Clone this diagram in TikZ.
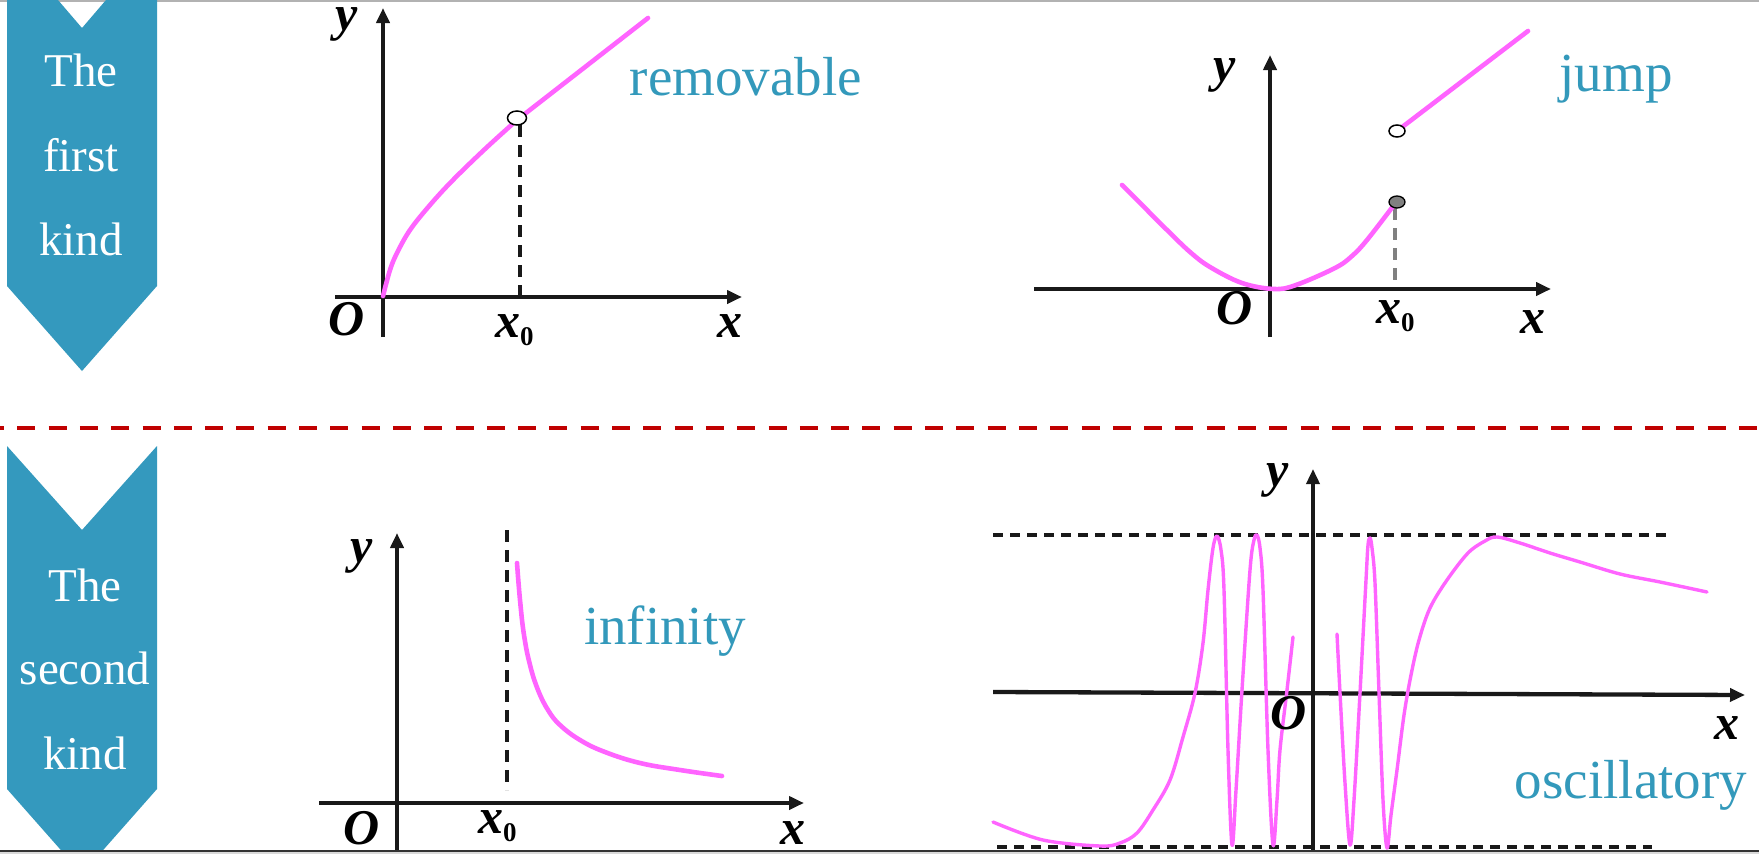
\documentclass[tikz,border=0pt]{standalone}
\usepackage{fontspec}
\setmainfont{Liberation Serif}
\usetikzlibrary{arrows.meta,shapes.geometric}
\definecolor{banner}{RGB}{52,153,190}
\definecolor{lab}{RGB}{51,153,187}
\definecolor{mag}{RGB}{255,100,255}
\definecolor{sep}{RGB}{192,0,0}
\definecolor{axisc}{RGB}{25,25,25}
\newcommand{\xsub}{\textbf{\textit{x}}\raisebox{-8pt}{\fontsize{27}{27}\selectfont\bfseries\upshape 0}}
\begin{document}
\begin{tikzpicture}[x=1pt,y=-1pt,
  axisline/.style={line width=4.3pt, axisc, -{Triangle[length=15pt,width=13pt]}},
  curve/.style={line width=4.6pt, mag, line cap=round, line join=round},
  thincurve/.style={line width=3.4pt, mag, line cap=round, line join=round},
  guide/.style={line width=3.5pt, axisc, dash pattern=on 12pt off 8pt},
  axlabel/.style={font=\fontsize{50}{50}\selectfont\bfseries\itshape, inner sep=0pt},
  kindlabel/.style={font=\fontsize{55}{55}\selectfont, text=lab, anchor=base, inner sep=0pt},
  bannertext/.style={font=\fontsize{47}{47}\selectfont, text=white, anchor=base, inner sep=0pt},
  hole/.style={draw=black, line width=1.5pt, fill=white},
]
\useasboundingbox (0,0) rectangle (1759,854);
\fill[white] (0,0) rectangle (1759,854);
% frame lines
\draw[line width=1.5pt, black!30] (0,0.75) -- (1759,0.75);
\fill[black!15] (0,852) rectangle (1759,854);

% banners
\begin{scope}
\clip (0,0) rectangle (1759,851);
\fill[banner] (7,0) -- (58,0) -- (82,28) -- (106,0) -- (157,0) -- (157,286) -- (82,371) -- (7,286) -- cycle;
\fill[banner] (7,446) -- (82,530) -- (157,446) -- (157,789) -- (82,874) -- (7,789) -- cycle;
\end{scope}
\node[bannertext] (b1a) at (81,86) {The};
\node[bannertext] (b1b) at (81,171) {first};
\node[bannertext] (b1c) at (81,255) {kind};
\node[bannertext] (b2a) at (85,601) {The};
\node[bannertext] (b2b) at (85,684) {second};
\node[bannertext] (b2c) at (85,769) {kind};

% separator
\draw[line width=4.7pt, sep, dash pattern=on 18pt off 13.3pt, dash phase=14pt] (0,428) -- (1759,428);

% ---------- removable ----------
\coordinate (r-xs) at (335,297); \coordinate (r-xe) at (742,297);
\coordinate (r-ys) at (383,337); \coordinate (r-ye) at (383,8);
\coordinate (r-g1) at (520,125); \coordinate (r-g2) at (520,297);
\draw[guide] (r-g1) -- (r-g2);
\draw[axisline] (r-xs) -- (r-xe);
\draw[axisline] (r-ys) -- (r-ye);
\draw[curve] plot[smooth, tension=0.6] coordinates {(383,296) (390,270) (397,253) (410,230) (430,205) (453,180) (485,149) (517,120)} -- (648,18);
\node[hole, ellipse, minimum width=19pt, minimum height=14pt, inner sep=0pt] (r-hole) at (517,118) {};
\node[axlabel] (r-y) at (347,24) {y};
\node[axlabel] (r-o) at (347,319) {O};
\node[axlabel] (r-x) at (730,326) {x};
\node[axlabel, anchor=base west] (r-x0) at (495,337) {\xsub};
\node[kindlabel] (r-lab) at (746,95) {removable};

% ---------- jump ----------
\coordinate (j-xs) at (1034,289); \coordinate (j-xe) at (1551,289);
\coordinate (j-ys) at (1270,337); \coordinate (j-ye) at (1270,55);
\coordinate (j-g1) at (1395,208); \coordinate (j-g2) at (1395,289);
\draw[guide, black!50] (j-g1) -- (j-g2);
\draw[axisline] (j-xs) -- (j-xe);
\draw[axisline] (j-ys) -- (j-ye);
\draw[curve] plot[smooth, tension=0.6] coordinates {(1122,185) (1145,208) (1167,230) (1190,252) (1210,267) (1242,283) (1274,289) (1296,285) (1335,268) (1352,256) (1367,240) (1394,205)};
\draw[curve] (1397,131) -- (1528,31);
\node[draw=black, line width=1.3pt, fill=black!50, ellipse, minimum width=16pt, minimum height=12pt, inner sep=0pt] (j-dot) at (1397,202) {};
\node[hole, ellipse, minimum width=16pt, minimum height=12pt, inner sep=0pt] (j-hole) at (1397,131) {};
\node[axlabel] (j-y) at (1225,75) {y};
\node[axlabel] (j-o) at (1235,308) {O};
\node[axlabel] (j-x) at (1533,322) {x};
\node[axlabel, anchor=base west] (j-x0) at (1376,323) {\xsub};
\node[kindlabel] (j-lab) at (1616,91) {jump};

% ---------- infinity ----------
\coordinate (i-xs) at (319,803); \coordinate (i-xe) at (804,803);
\coordinate (i-ys) at (397,850); \coordinate (i-ye) at (397,533);
\coordinate (i-g1) at (507,530); \coordinate (i-g2) at (507,790);
\draw[guide] (i-g1) -- (i-g2);
\draw[axisline] (i-xs) -- (i-xe);
\draw[axisline] (i-ys) -- (i-ye);
\draw[curve] plot[smooth, tension=0.7] coordinates {(517,563) (520,600) (524,635) (530,665) (538,690) (548,710) (560,725) (580,740) (605,752) (640,763) (680,770) (722,776)};
\node[axlabel] (i-y) at (362,556) {y};
\node[axlabel] (i-o) at (362,828) {O};
\node[axlabel] (i-x) at (793,833) {x};
\node[axlabel, anchor=base west] (i-x0) at (478,833) {\xsub};
\node[kindlabel] (i-lab) at (665,644) {infinity};

% ---------- oscillatory ----------
\coordinate (o-xs) at (993,692); \coordinate (o-xe) at (1745,695);
\coordinate (o-ys) at (1313,851); \coordinate (o-ye) at (1313,469);
\coordinate (o-t1) at (993,535); \coordinate (o-t2) at (1667,535);
\coordinate (o-b1) at (997,847); \coordinate (o-b2) at (1652,847);
\draw[guide, dash pattern=on 10pt off 7pt] (o-t1) -- (o-t2);
\draw[guide, dash pattern=on 10pt off 7pt] (o-b1) -- (o-b2);
\draw[axisline] (o-xs) -- (o-xe);
\draw[axisline, line width=3.5pt] (o-ys) -- (o-ye);
\draw[thincurve] plot[smooth, tension=0.55] coordinates {
 (993,822) (1043,840) (1100,846) (1120,843) (1137,833) (1153,810) (1170,780) (1183,737) (1195,693) (1203,643) (1208,590) (1213,548) (1217,536)
 (1221,550) (1224,590) (1228,750) (1232,845)
 (1236,790) (1242,690) (1250,570) (1254,540) (1257,535)
 (1260,548) (1263,590) (1268,750) (1273,845)
 (1277,800) (1280,750) (1287,690) (1293,637)};
\draw[thincurve] plot[smooth, tension=0.55] coordinates {
 (1337,634) (1340,693) (1345,783) (1350,845)
 (1354,800) (1360,693) (1366,580) (1368,545) (1370,538)
 (1372,548) (1375,583) (1379,693) (1383,800) (1387,848)
 (1391,815) (1397,770) (1404,715) (1411,675) (1419,640) (1430,608) (1447,580) (1468,553) (1485,541) (1497,537)
 (1520,543) (1550,553) (1580,562) (1620,574) (1660,582) (1707,592)};
\node[axlabel] (o-y) at (1278,480) {y};
\node[axlabel] (o-o) at (1289,713) {O};
\node[axlabel] (o-x) at (1727,728) {x};
\node[kindlabel] (o-lab) at (1631,798) {oscillatory};

% bottom edge
\draw[line width=1.5pt, black!80] (0,851) -- (1759,851);
\end{tikzpicture}
\end{document}
